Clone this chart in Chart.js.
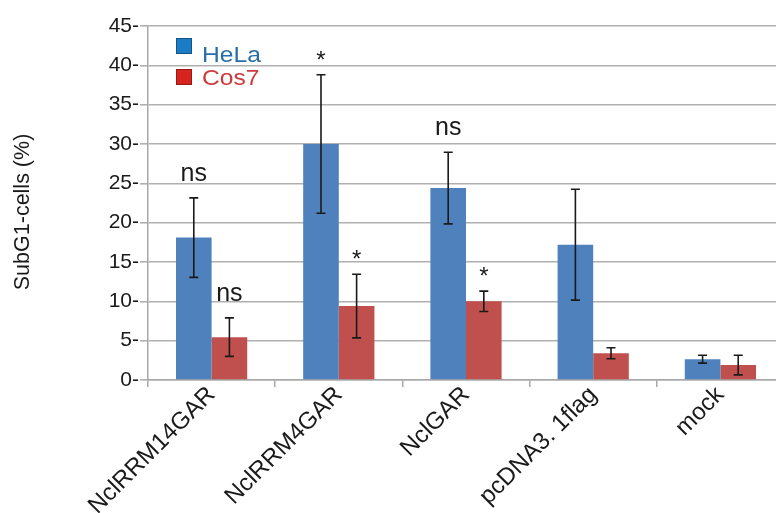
<!DOCTYPE html>
<html>
<head>
<meta charset="utf-8">
<script src="https://cdn.jsdelivr.net/npm/chart.js@4/dist/chart.umd.min.js"></script>
<style>
  html, body { margin: 0; padding: 0; background: #fff; overflow: hidden; }
  #wrap { width: 776px; height: 513px; overflow: hidden; position: relative; }
  canvas { display: block; }
</style>
</head>
<body>
<div id="wrap"><canvas id="c" width="784" height="513"></canvas></div>
<script>
// Constructs tested
const categories = ['NclRRM14GAR', 'NclRRM4GAR', 'NclGAR', 'pcDNA3. 1flag', 'mock'];

// Mean SubG1 fraction (%) and standard deviation per cell line
const helaValues = [18.1, 30.0, 24.4, 17.2, 2.65];
const helaErrors = [5.05, 8.8, 4.55, 7.05, 0.5];
const cos7Values = [5.45, 9.4, 10.0, 3.4, 1.9];
const cos7Errors = [2.45, 4.05, 1.3, 0.7, 1.25];

// Significance marks above each bar ('' = none)
const helaSignif = ['ns', '*', 'ns', '', ''];
const cos7Signif = ['ns', '*', '*', '', ''];

// Y axis ticks
const yTicks = [0, 5, 10, 15, 20, 25, 30, 35, 40, 45];

const FONT = '"Liberation Sans", Arial, Helvetica, sans-serif';

// Error bars with caps plus significance labels above them
const errorBarPlugin = {
  id: 'errorBars',
  afterDatasetsDraw(chart) {
    const ctx = chart.ctx;
    const y = chart.scales.y;
    chart.data.datasets.forEach((ds, di) => {
      const meta = chart.getDatasetMeta(di);
      meta.data.forEach((bar, i) => {
        const v = ds.data[i];
        const e = ds.errors[i];
        const yTop = y.getPixelForValue(v + e);
        const yBot = y.getPixelForValue(v - e);
        const x = bar.x;
        ctx.save();
        ctx.strokeStyle = '#1a1a1a';
        ctx.lineWidth = 1.6;
        ctx.beginPath();
        ctx.moveTo(x, yTop); ctx.lineTo(x, yBot);
        ctx.moveTo(x - 4.5, yTop); ctx.lineTo(x + 4.5, yTop);
        ctx.moveTo(x - 4.5, yBot); ctx.lineTo(x + 4.5, yBot);
        ctx.stroke();
        const s = ds.signif[i];
        if (s) {
          ctx.fillStyle = '#1a1a1a';
          ctx.textAlign = 'center';
          ctx.textBaseline = 'alphabetic';
          if (s === '*') {
            ctx.font = '24px ' + FONT;
            ctx.fillText(s, x, yTop - 7);
          } else {
            ctx.font = '25px ' + FONT;
            ctx.fillText(s, x, yTop - 17);
          }
        }
        ctx.restore();
      });
    });
  }
};

// Legend drawn inside the plot area, text coloured like its series
const insideLegend = {
  id: 'insideLegend',
  afterDraw(chart) {
    const ctx = chart.ctx;
    const area = chart.chartArea;
    const x0 = area.left + 28;
    const rows = [
      { box: 12, base: 35.5 },
      { box: 43, base: 58.5 }
    ];
    chart.data.datasets.forEach((ds, i) => {
      const r = rows[i];
      ctx.save();
      ctx.fillStyle = ds.legendSwatch;
      ctx.fillRect(x0, area.top + r.box, 16, 16);
      ctx.strokeStyle = 'rgba(0,0,0,0.3)';
      ctx.lineWidth = 1;
      ctx.strokeRect(x0 + 0.5, area.top + r.box + 0.5, 15, 15);
      ctx.fillStyle = ds.legendText;
      ctx.font = '22px ' + FONT;
      ctx.textBaseline = 'alphabetic';
      ctx.textAlign = 'left';
      ctx.translate(x0 + 26, area.top + r.base);
      ctx.scale(1.12, 1);
      ctx.fillText(ds.label, 0, 0);
      ctx.restore();
    });
  }
};

new Chart(document.getElementById('c'), {
  type: 'bar',
  data: {
    labels: categories,
    datasets: [
      {
        label: 'HeLa',
        data: helaValues,
        errors: helaErrors,
        signif: helaSignif,
        backgroundColor: '#4f81bd',
        legendSwatch: '#1a7cc4',
        legendText: '#2a6ea8',
        categoryPercentage: 0.56,
        barPercentage: 1.0
      },
      {
        label: 'Cos7',
        data: cos7Values,
        errors: cos7Errors,
        signif: cos7Signif,
        backgroundColor: '#c0504d',
        legendSwatch: '#d8241e',
        legendText: '#cc3c3c',
        categoryPercentage: 0.56,
        barPercentage: 1.0
      }
    ]
  },
  options: {
    responsive: false,
    animation: false,
    layout: { padding: { top: 26, right: 0, left: 0, bottom: 0 } },
    plugins: {
      legend: { display: false },
      tooltip: { enabled: false }
    },
    scales: {
      x: {
        afterFit(axis) { axis.height = 133; },
        grid: {
          display: true,
          drawOnChartArea: false,
          color: '#a8a8a8',
          lineWidth: 1.5,
          tickLength: 7,
          offset: true
        },
        border: { color: '#a8a8a8', width: 1.5 },
        ticks: {
          color: '#1a1a1a',
          font: { family: FONT, size: 24 },
          maxRotation: 45,
          minRotation: 45,
          autoSkip: false,
          padding: -6
        }
      },
      y: {
        min: 0,
        max: 45,
        afterFit(axis) { axis.width = 148; },
        afterBuildTicks(axis) { axis.ticks = yTicks.map(v => ({ value: v })); },
        grid: {
          color: '#b0b0b0',
          lineWidth: 1.6,
          tickLength: 8
        },
        border: { color: '#a8a8a8', width: 1.5 },
        ticks: {
          color: '#1a1a1a',
          font: { family: FONT, size: 21 },
          padding: 1,
          callback: v => v + '-'
        },
        title: {
          display: true,
          text: 'SubG1-cells (%)   ',
          color: '#1a1a1a',
          font: { family: FONT, size: 21.5 },
          padding: { top: 10, bottom: 0 }
        }
      }
    }
  },
  plugins: [errorBarPlugin, insideLegend]
});
</script>
</body>
</html>
